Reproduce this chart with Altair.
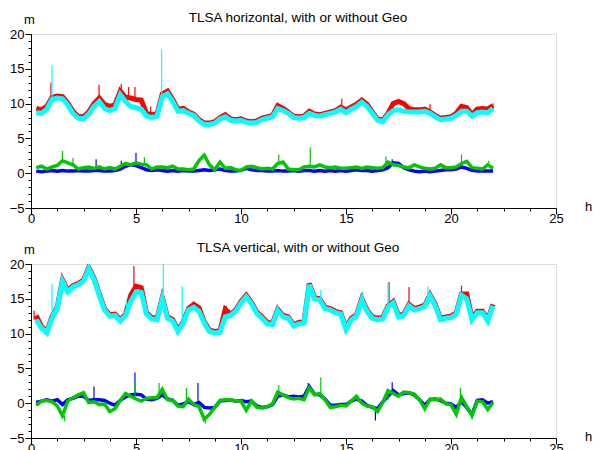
import altair as alt
import pandas as pd

T = [0.25, 0.5, 0.75, 1.0, 1.25, 1.5, 1.75, 2.0, 2.25, 2.5, 2.75, 3.0, 3.25, 3.5, 3.75, 4.0,
     4.25, 4.5, 4.75, 5.0, 5.25, 5.5, 5.75, 6.0, 6.25, 6.5, 6.75, 7.0, 7.25, 7.5, 7.75, 8.0,
     8.25, 8.5, 8.75, 9.0, 9.25, 9.5, 9.75, 10.0, 10.25, 10.5, 10.75, 11.0, 11.25, 11.5, 11.75, 12.0,
     12.25, 12.5, 12.75, 13.0, 13.25, 13.5, 13.75, 14.0, 14.25, 14.5, 14.75, 15.0, 15.25, 15.5, 15.75, 16.0,
     16.25, 16.5, 16.75, 17.0, 17.25, 17.5, 17.75, 18.0, 18.25, 18.5, 18.75, 19.0, 19.25, 19.5, 19.75, 20.0,
     20.25, 20.5, 20.75, 21.0, 21.25, 21.5, 21.75, 22.0]

# ---------- horizontal panel ----------
h_red = [9.3, 9.1, 9.6, 10.9, 11.1, 11.0, 10.1, 8.9, 8.1, 8.1, 8.8, 10.0, 10.8, 9.9, 9.6, 9.8,
         11.8, 10.9, 10.8, 10.6, 10.5, 8.6, 8.4, 8.5, 11.4, 11.8, 10.6, 9.2, 9.3, 8.8, 8.5, 7.7,
         7.2, 7.2, 7.4, 8.0, 8.4, 7.8, 7.7, 7.8, 7.5, 7.4, 7.5, 7.9, 8.1, 8.3, 9.7, 9.3,
         8.8, 8.2, 8.1, 8.2, 8.9, 8.5, 8.4, 8.6, 8.8, 9.0, 9.5, 9.1, 9.5, 9.9, 10.5, 9.9,
         8.8, 7.8, 7.6, 8.6, 10.0, 10.3, 10.0, 9.3, 9.1, 9.1, 9.2, 8.8, 8.3, 7.9, 8.0, 8.1,
         8.6, 9.6, 9.4, 8.4, 9.2, 9.3, 9.2, 9.7]
h_cyan = [8.7, 8.6, 9.2, 10.6, 10.8, 10.7, 9.8, 8.6, 7.9, 7.8, 8.5, 9.6, 10.3, 9.3, 9.0, 9.3,
          11.3, 10.3, 9.6, 9.4, 9.2, 8.2, 8.0, 8.2, 11.0, 11.4, 10.3, 8.9, 9.0, 8.6, 8.3, 7.5,
          7.0, 7.0, 7.2, 7.8, 8.1, 7.6, 7.5, 7.6, 7.3, 7.2, 7.3, 7.7, 7.9, 8.1, 9.3, 9.0,
          8.6, 8.0, 7.9, 8.0, 8.6, 8.3, 8.2, 8.4, 8.6, 8.8, 9.2, 8.7, 9.2, 9.6, 10.2, 9.6,
          8.6, 7.6, 7.4, 8.4, 9.0, 9.1, 8.9, 8.8, 8.8, 8.8, 8.9, 8.6, 8.1, 7.7, 7.8, 7.9,
          8.3, 8.9, 8.9, 8.2, 8.7, 8.8, 8.7, 9.3]
h_blue = [0.3, 0.2, 0.3, 0.4, 0.3, 0.4, 0.3, 0.3, 0.4, 0.3, 0.3, 0.4, 0.4, 0.3, 0.3, 0.4,
          0.6, 1.0, 1.2, 1.1, 0.8, 0.5, 0.4, 0.5, 0.4, 0.3, 0.4, 0.3, 0.4, 0.3, 0.3, 0.4,
          0.5, 0.4, 0.5, 0.6, 0.4, 0.3, 0.3, 0.4, 0.7, 0.5, 0.4, 0.4, 0.3, 0.3, 0.4, 0.3,
          0.3, 0.4, 0.3, 0.4, 0.4, 0.3, 0.4, 0.3, 0.4, 0.3, 0.4, 0.3, 0.4, 0.5, 0.4, 0.4,
          0.3, 0.4, 0.5, 0.8, 1.5, 1.4, 0.8, 0.5, 0.3, 0.2, 0.3, 0.2, 0.3, 0.4, 0.5, 0.5,
          0.6, 0.9, 0.7, 0.4, 0.3, 0.3, 0.3, 0.3]
h_green = [0.8, 1.0, 0.6, 0.9, 1.1, 1.8, 1.5, 1.2, 0.6, 0.8, 0.9, 0.7, 0.9, 0.6, 0.8, 0.6,
           1.0, 1.4, 1.2, 1.5, 1.3, 1.2, 0.6, 0.9, 0.9, 0.8, 1.0, 0.6, 0.6, 0.5, 0.6, 1.8,
           2.6, 1.2, 0.5, 1.6, 0.7, 0.8, 0.5, 0.4, 0.9, 1.0, 0.8, 0.6, 0.7, 0.6, 1.4, 1.6,
           0.6, 0.5, 0.5, 0.9, 1.0, 0.9, 1.2, 0.9, 0.8, 0.9, 0.7, 0.7, 0.8, 0.9, 0.7, 0.9,
           0.8, 0.7, 0.8, 1.6, 1.2, 1.1, 0.9, 0.8, 1.2, 0.9, 0.7, 0.6, 0.7, 1.2, 0.8, 0.8,
           0.9, 1.4, 1.7, 0.8, 0.7, 0.6, 1.2, 0.7]
h_spike_t = [0.95, 3.24, 4.3, 4.65, 4.95, 5.7, 14.8, 19.0, 22.0,
             1.0, 6.22,
             3.1, 4.3, 5.0, 17.2,
             1.5, 2.0, 5.4, 11.8, 13.3, 16.9, 20.5, 21.8]
h_spike_lo = [10.6, 10.3, 11.3, 10.6, 10.5, 8.2, 9.2, 8.9, 9.3,
              10.6, 11.0,
              0.4, 0.6, 1.1, 1.2,
              1.8, 1.2, 1.2, 1.4, 1.0, 1.0, 1.4, 1.0]
h_spike_hi = [13.0, 12.7, 12.8, 12.4, 12.4, 9.6, 10.7, 9.9, 10.0,
              15.5, 17.8,
              2.0, 1.8, 2.9, 2.0,
              3.2, 2.2, 2.3, 2.7, 3.7, 2.4, 2.7, 1.8]
h_spike_s = ["red"] * 9 + ["cyan"] * 2 + ["blue"] * 4 + ["green"] * 8

# ---------- vertical panel ----------
v_red = [12.6, 11.0, 10.3, 12.4, 13.8, 17.7, 16.2, 16.9, 17.2, 17.7, 19.5, 18.0, 15.7, 13.6, 12.7, 12.8,
         12.0, 12.8, 15.5, 16.8, 16.6, 13.0, 12.3, 12.2, 15.2, 12.4, 12.0, 10.5, 11.7, 13.6, 14.2, 13.7,
         11.7, 10.5, 10.3, 10.4, 13.5, 12.8, 13.4, 14.6, 15.5, 14.5, 13.1, 12.4, 11.6, 11.5, 13.5, 12.6,
         12.4, 11.3, 11.6, 11.7, 17.2, 15.2, 15.0, 13.8, 13.6, 13.2, 13.0, 10.8, 12.2, 12.7, 15.0, 13.4,
         12.4, 12.2, 12.3, 14.0, 14.6, 12.6, 12.8, 14.2, 13.6, 13.8, 14.1, 15.6, 14.2, 12.2, 12.4, 12.5,
         13.0, 15.7, 15.7, 12.2, 13.2, 13.2, 12.0, 14.2]
v_cyan = [12.0, 10.8, 10.1, 12.2, 13.6, 17.5, 16.0, 16.7, 17.0, 17.5, 19.3, 17.8, 15.5, 13.4, 12.5, 12.6,
          11.8, 12.6, 14.6, 16.0, 15.9, 12.8, 12.1, 12.0, 15.0, 12.2, 11.8, 10.3, 11.5, 13.4, 13.8, 13.2,
          11.5, 10.3, 10.1, 10.2, 12.4, 12.6, 13.2, 14.4, 15.3, 14.3, 12.9, 12.2, 11.4, 11.3, 13.3, 12.4,
          12.2, 11.1, 11.4, 11.5, 17.0, 15.0, 14.8, 13.6, 13.4, 13.0, 12.8, 10.6, 12.0, 12.5, 14.8, 13.2,
          12.2, 12.0, 12.1, 13.8, 14.4, 12.4, 12.6, 14.0, 13.4, 13.6, 13.9, 15.4, 14.0, 12.0, 12.2, 12.3,
          12.8, 15.5, 15.0, 12.0, 13.0, 13.0, 11.8, 14.0]
v_blue = [0.1, 0.3, 0.5, 0.3, 0.5, -0.2, 0.5, 0.7, 1.0, 1.0, 0.4, 0.5, 0.5, 0.4, 0.0, -0.3,
          0.4, 0.9, 1.2, 1.3, 1.2, 0.6, 0.5, 0.7, 1.2, 0.6, 0.4, -0.3, -0.1, 0.2, -0.2, 0.1,
          -0.6, -0.7, -0.6, 0.3, 0.4, 0.5, 0.3, 0.4, 0.2, 0.3, -0.4, -0.6, -0.5, -0.2, 1.0, 1.2,
          0.9, 1.0, 0.9, 1.0, 2.4, 1.3, 1.2, 0.6, -0.3, -0.3, -0.2, -0.2, 0.3, 0.6, 0.3, -0.3,
          -0.6, -0.8, 0.2, 1.0, 1.8, 1.2, 1.4, 1.5, 1.2, 0.5, -0.3, 0.5, 0.6, 0.4, 0.0, -0.1,
          -0.6, 0.2, -0.6, -1.6, 0.4, 0.5, 0.0, 0.2]
v_green = [-0.3, 0.3, 0.4, 0.2, -0.4, -1.8, 0.3, 0.8, 1.2, 1.5, 0.1, 0.2, -0.2, -0.1, -1.2, -0.8,
           0.4, 1.4, 1.0, 0.6, 0.3, 0.7, 0.8, 0.8, 2.0, 0.5, 0.4, -0.4, -0.5, 0.6, -0.2, -0.5,
           -2.3, -1.6, -0.6, 0.4, 0.5, 0.5, 0.3, 0.3, -1.0, 0.3, -0.6, -0.7, -0.5, -0.1, 1.6, 1.2,
           0.8, 0.6, 0.7, 0.5, 2.2, 1.2, 1.4, 0.5, -0.6, -0.5, -0.3, -0.4, 0.3, 1.0, 0.0, -0.4,
           -0.5, -1.2, 0.1, 1.8, 1.4, 1.0, 1.6, 1.5, 1.3, 0.5, -0.8, 0.6, 0.5, 0.6, -0.1, -0.2,
           -1.6, 0.8, -0.5, -1.8, 0.3, 0.2, -0.9, 0.1]
v_spike_t = [0.15, 4.9, 17.05, 18.0, 20.5, 9.3,
             1.0, 6.3, 7.2, 4.55, 5.4, 11.75, 13.8, 15.8, 18.9, 17.0, 2.8,
             3.0, 4.95, 7.95, 17.2, 16.4, 13.2,
             1.6, 4.95, 6.1, 7.4, 8.3, 13.8, 11.8, 17.0, 20.45, 21.0]
v_spike_lo = [12.0, 16.0, 14.4, 14.0, 15.5, 12.4,
              12.2, 15.0, 11.5, 12.6, 12.8, 13.3, 14.8, 14.8, 13.9, 13.8, 19.3,
              0.5, 1.3, 0.1, 1.8, -0.8, 2.0,
              -1.8, 0.6, 1.0, 0.6, -2.3, 1.4, 1.6, 0.5, 0.5, -1.0]
v_spike_hi = [13.3, 19.7, 17.4, 16.7, 16.9, 14.0,
              17.1, 20.0, 16.8, 14.6, 14.6, 14.3, 16.3, 16.0, 16.8, 17.3, 20.0,
              2.4, 4.4, 2.9, 3.0, -2.5, 2.9,
              -2.6, 3.2, 2.9, 2.2, -2.9, 3.7, 2.6, 2.0, 2.2, -2.3]
v_spike_s = ["red"] * 6 + ["cyan"] * 11 + ["blue"] * 6 + ["green"] * 10

COLORS = {"red": "#ff0000", "cyan": "#00ffff", "blue": "#0000ff", "green": "#00c800"}
WIDTHS = {"red": 5, "cyan": 5, "blue": 3.5, "green": 3.5}

X_TICKS = [0, 1.25, 2.5, 3.75, 5, 6.25, 7.5, 8.75, 10, 11.25, 12.5, 13.75, 15,
           16.25, 17.5, 18.75, 20, 21.25, 22.5, 23.75, 25]
Y_TICKS = list(range(-5, 21))

FONT = "Liberation Sans"
W, H = 525, 174


def make_panel(title, red, cyan, blue, green, st, slo, shi, ss):
    df = pd.DataFrame({"t": T, "red": red, "cyan": cyan, "blue": blue, "green": green})
    sp = pd.DataFrame({"t": st, "lo": slo, "hi": shi, "s": ss})
    tt = pd.DataFrame({"label": [title]})

    xaxis = alt.Axis(
        values=X_TICKS, format="d", grid=False,
        labelExpr="datum.value % 5 == 0 ? datum.label : ''",
        tickSize={"condition": {"test": "datum.value % 5 == 0", "value": 6}, "value": 3},
        tickColor="black", domainColor="black", labelColor="black",
        labelFont=FONT, labelFontSize=13, labelPadding=-2, labelFlush=False,
        title="h", titleFont=FONT, titleFontSize=13, titleFontWeight="normal",
        titleColor="black", titleX=557, titleY=2, titleAlign="center",
        titleBaseline="alphabetic",
    )
    yaxis = alt.Axis(
        values=Y_TICKS, format="d", grid=False,
        labelExpr="datum.value % 5 == 0 ? datum.label : ''",
        tickSize={"condition": {"test": "datum.value % 5 == 0", "value": 6}, "value": 3},
        tickColor="black", domainColor="black", labelColor="black",
        labelFont=FONT, labelFontSize=13, labelPadding=1, labelFlush=False,
        title="m", titleFont=FONT, titleFontSize=13, titleFontWeight="normal",
        titleColor="black", titleAngle=0, titleX=-2, titleY=-11, titleAlign="center",
        titleBaseline="alphabetic",
    )
    xs = alt.Scale(domain=[0, 25], nice=False, zero=False)
    ys = alt.Scale(domain=[-5, 20], nice=False, zero=False)

    layers = []
    for name in ["red", "cyan", "blue", "green"]:
        layers.append(
            alt.Chart(df).mark_line(color=COLORS[name], strokeWidth=WIDTHS[name],
                                    strokeJoin="miter", clip=True)
            .encode(x=alt.X("t:Q", scale=xs, axis=xaxis),
                    y=alt.Y(f"{name}:Q", scale=ys, axis=yaxis))
        )
        layers.append(
            alt.Chart(sp).transform_filter(f"datum.s == '{name}'")
            .mark_rule(color=COLORS[name], strokeWidth=1.2, clip=True)
            .encode(x=alt.X("t:Q", scale=xs, axis=xaxis),
                    y=alt.Y("lo:Q", scale=ys, axis=yaxis),
                    y2="hi:Q")
        )
    layers.append(
        alt.Chart(tt).mark_text(font=FONT, fontSize=13.5, color="black", align="center",
                                baseline="alphabetic")
        .encode(text="label:N", x=alt.value(267), y=alt.value(-12))
    )
    return alt.layer(*layers).properties(width=W, height=H)


top = make_panel("TLSA horizontal, with or without Geo", h_red, h_cyan, h_blue, h_green,
                 h_spike_t, h_spike_lo, h_spike_hi, h_spike_s)
bottom = make_panel("TLSA vertical, with or without Geo", v_red, v_cyan, v_blue, v_green,
                    v_spike_t, v_spike_lo, v_spike_hi, v_spike_s)

chart = alt.vconcat(top, bottom, spacing=14).properties(
    padding={"left": 0, "top": 2, "right": 0, "bottom": 0}
).configure_view(stroke="black", strokeWidth=1).configure(background="white")

chart.save("out.html", embed_options={"renderer": "svg", "actions": False})
